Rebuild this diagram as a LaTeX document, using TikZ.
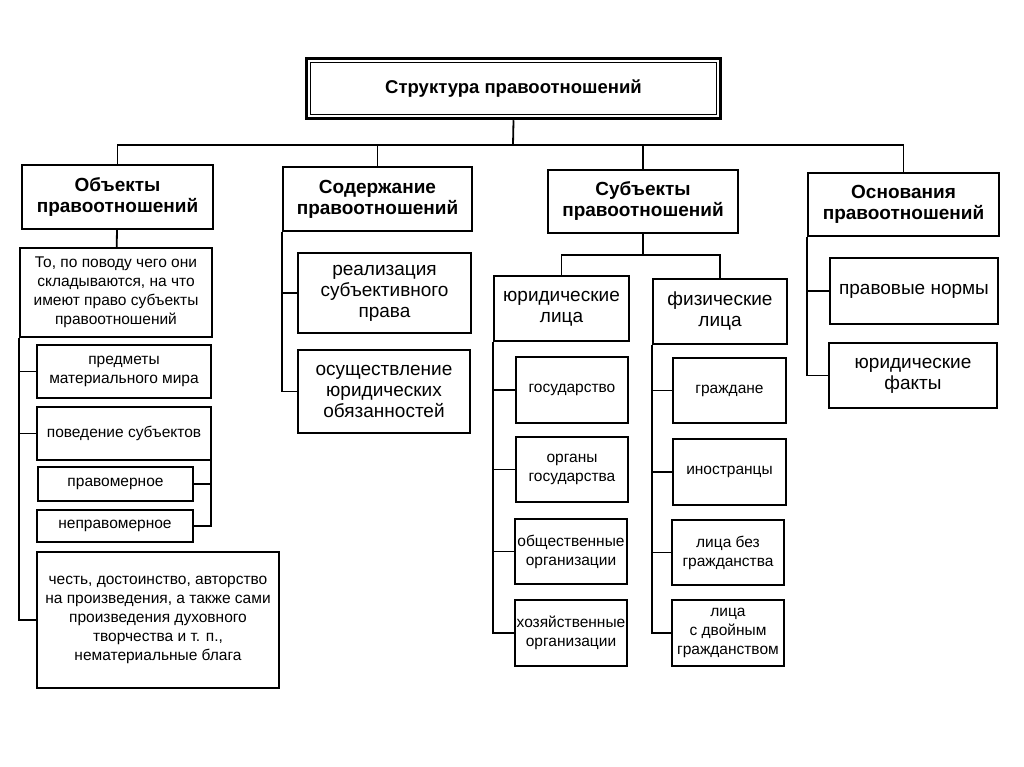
\documentclass[tikz,border=0pt]{standalone}
\usepackage{fontspec}
\setmainfont{Liberation Sans}
\newcommand{\bigtxt}{\fontsize{19}{21}\selectfont}
\newcommand{\smalltxt}{\fontsize{15.5}{19}\selectfont}
\begin{document}
\begin{tikzpicture}[x=1pt, y=-1pt,
	box/.style={draw, line width=2pt, align=center, inner sep=0pt},
	head/.style={box, font=\bigtxt\bfseries},
	big/.style={box, font=\bigtxt},
	small/.style={box, font=\smalltxt},
	link/.style={line width=1.8pt}]
	\useasboundingbox (0,0) rectangle (1024,767);

	%title
	\node[head, font=\fontsize{18.5}{21}\selectfont\bfseries, line width=3.5pt, minimum width=414pt, minimum height=60pt] (title) at (513.5,88.5) {Структура правоотношений};
	\draw[line width=1.2pt] ([xshift=6pt,yshift=-6pt]title.north west) rectangle ([xshift=-6pt,yshift=6pt]title.south east);

	%headings
	\node[head, minimum width=191pt, minimum height=64pt] (obj) at (117.5,197) {Объекты\\правоотношений};
	\node[head, minimum width=189pt, minimum height=64pt] (cont) at (377.5,199) {Содержание\\правоотношений};
	\node[head, minimum width=190pt, minimum height=63pt] (subj) at (643,201.5) {Субъекты\\правоотношений};
	\node[head, minimum width=191pt, minimum height=63pt] (basis) at (903.5,204.5) {Основания\\правоотношений};

	\coordinate (tfork) at (513,145);
	\draw[link] (title.south) -- (tfork);
	\draw[link] (obj.north) |- (tfork) -| (basis.north);
	\draw[link] (cont.north) -- (cont.north |- tfork);
	\draw[link] (subj.north) -- (subj.north |- tfork);

	%objects
	\node[small, minimum width=192pt, minimum height=89pt] (what) at (116,292.5) {То, по поводу чего они\\складываются, на что\\имеют право субъекты\\правоотношений};
	\node[small, minimum width=174pt, minimum height=53pt] (mat) at (124,371.5) {предметы\\материального мира};
	\node[small, minimum width=174pt, minimum height=53pt] (beh) at (124,433.5) {поведение субъектов};
	\node[small, minimum width=155pt, minimum height=34pt] (lawful) at (115.5,484) {правомерное};
	\node[small, minimum width=156pt, minimum height=32pt] (unlawful) at (115,526) {неправомерное};
	\node[small, minimum width=242pt, minimum height=136pt] (honour) at (158,620) {честь, достоинство, авторство\\на произведения, а также сами\\произведения духовного\\творчества и т. п.,\\нематериальные блага};

	\draw[link] (obj) -- (what);
	\draw[link] (what.south west) |- (honour.west);
	\draw[link] (what.south west) |- (mat.west);
	\draw[link] (what.south west) |- (beh.west);
	\draw[link] ([xshift=-1pt]beh.south east) |- (unlawful.east);
	\draw[link] ([xshift=-1pt]beh.south east) |- (lawful.east);

	%content
	\node[big, minimum width=173pt, minimum height=80pt] (real) at (384.5,293) {реализация\\субъективного\\права};
	\node[big, minimum width=172pt, minimum height=83pt] (duty) at (384,391.5) {осуществление\\юридических\\обязанностей};

	\draw[link] (cont.south west) |- (real.west);
	\draw[link] (cont.south west) |- (duty.west);

	%subjects
	\node[big, minimum width=135pt, minimum height=65pt] (jur) at (561.5,308.5) {юридические\\лица};
	\node[big, minimum width=134pt, minimum height=65pt] (phys) at (720,311.5) {физические\\лица};

	\coordinate (sfork) at (643,255);
	\draw[link] (subj) -- (sfork);
	\draw[link] (jur.north) |- (sfork) -| (phys.north);

	\node[small, minimum width=112pt, minimum height=66pt] (state) at (572,390) {государство};
	\node[small, minimum width=112pt, minimum height=65pt] (organs) at (572,469.5) {органы\\государства};
	\node[small, minimum width=112pt, minimum height=65pt] (public) at (571,551.5) {общественные\\организации};
	\node[small, minimum width=112pt, minimum height=66pt] (econ) at (571,633) {хозяйственные\\организации};

	\node[small, minimum width=113pt, minimum height=65pt] (citiz) at (729.5,390.5) {граждане};
	\node[small, minimum width=113pt, minimum height=66pt] (foreign) at (729.5,472) {иностранцы};
	\node[small, minimum width=112pt, minimum height=65pt] (stateless) at (728,552.5) {лица без\\гражданства};
	\node[small, minimum width=112pt, minimum height=66pt] (dual) at (728,633) {лица\\с двойным\\гражданством};

	\foreach \n in {state,organs,public,econ}
		\draw[link] (jur.south west) |- (\n.west);
	\foreach \n in {citiz,foreign,stateless,dual}
		\draw[link] (phys.south west) |- (\n.west);

	%grounds
	\node[big, minimum width=168pt, minimum height=66pt] (norms) at (914,291) {правовые нормы};
	\node[big, minimum width=168pt, minimum height=65pt] (facts) at (913,375.5) {юридические\\факты};

	\draw[link] (basis.south west) |- (norms.west);
	\draw[link] (basis.south west) |- (facts.west);
\end{tikzpicture}
\end{document}
